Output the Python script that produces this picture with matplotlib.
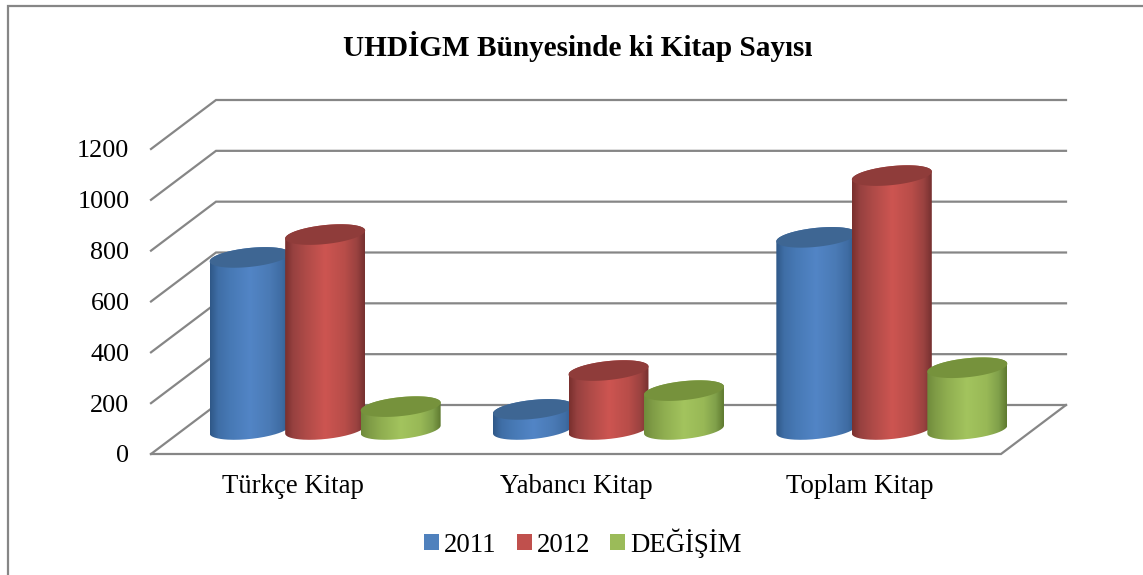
import numpy as np
import matplotlib
matplotlib.use("Agg")
import matplotlib.pyplot as plt
from matplotlib.patches import Patch, Polygon, PathPatch
from matplotlib.lines import Line2D
from matplotlib.path import Path
from matplotlib.colors import LinearSegmentedColormap

title = "UHDİGM Bünyesinde ki Kitap Sayısı"
categories = ["Türkçe Kitap", "Yabancı Kitap", "Toplam Kitap"]
series_names = ["2011", "2012", "DEĞİŞİM"]
values_2011 = [677, 79, 756]
values_2012 = [767, 232, 999]
values_degisim = [90, 153, 243]
y_ticks = [0, 200, 400, 600, 800, 1000, 1200]

legend_colors = ["#4f81bd", "#c0504d", "#9bbb59"]
top_colors = ["#3e6693", "#8f3c3a", "#76923c"]
ramp_stops = [0, 0.1, 0.25, 0.5, 0.75, 0.9, 1]
ramps = [
    ["#2f5888", "#3f6ea6", "#4779b5", "#5285c6", "#4a7ab5", "#3f6ca3", "#2f5a8c"],
    ["#7a302e", "#974140", "#ad4a47", "#cd5551", "#b84d49", "#9a4240", "#763130"],
    ["#6f8b3b", "#7f9b46", "#8fae50", "#a3c45e", "#98b856", "#80a04a", "#5f7a30"],
]

W, H = 1143, 575
L, R, B, T = 151, 1001, 454, 149
plt.rcParams["font.family"] = ["Liberation Serif", "DejaVu Serif"]
fig = plt.figure(figsize=(W / 100, H / 100), dpi=100, facecolor="white")
ax = fig.add_axes([L / W, 1 - B / H, (R - L) / W, (B - T) / H])
ax.patch.set_visible(False)
for s in ax.spines.values():
    s.set_visible(False)

px_x = 3 / (R - L)       # data units per pixel, x
px_y = 1200 / (B - T)    # data units per pixel, y
depth_x, depth_y = 65 * px_x, 49 * px_y
grid_c = "#868686"

# walls and floor
for v in y_ticks:
    ax.plot([-0.5, -0.5 + depth_x, 2.5 + depth_x], [v, v + depth_y, v + depth_y],
            color=grid_c, lw=1.6, clip_on=False, zorder=1, solid_joinstyle="miter")
ax.plot([-0.5, 2.5, 2.5 + depth_x], [0, 0, depth_y], color=grid_c, lw=1.6,
        clip_on=False, zorder=1, solid_joinstyle="miter")

# cylinders
rx = 40 * px_x
tilt = 4 * px_y
ry = 9.5 * px_y
step = 75.5 * px_x
series = [values_2011, values_2012, values_degisim]
zo = 2
t = np.linspace(0, np.pi, 80)
tt = np.linspace(0, 2 * np.pi, 120)
for ci in range(len(categories)):
    for si, vals in enumerate(series):
        cx = ci + (si - 1) * step + depth_x / 2
        y0 = depth_y / 2
        y1 = y0 + vals[ci]
        # lower half of base (left to right), upper half of top (right to left)
        bx = cx - rx * np.cos(t)
        by = y0 - tilt * np.cos(t) - ry * np.sin(t)
        ux = cx + rx * np.cos(t)
        uy = y1 + tilt * np.cos(t) + ry * np.sin(t)
        verts = np.r_[np.c_[bx, by], np.c_[ux, uy], [[bx[0], by[0]]]]
        clip = PathPatch(Path(verts), transform=ax.transData, fc="none", ec="none")
        clip.set_clip_on(False)
        ax.add_patch(clip)
        cmap = LinearSegmentedColormap.from_list("c", list(zip(ramp_stops, ramps[si])))
        im = ax.imshow(np.linspace(0, 1, 128)[None, :], cmap=cmap, aspect="auto",
                       extent=[cx - rx, cx + rx, y0 - 2 * ry, y1 + 2 * ry],
                       zorder=zo, interpolation="bilinear")
        im.set_clip_box(fig.bbox)
        im.set_clip_path(clip)
        ax.add_patch(Polygon(np.c_[cx + rx * np.cos(tt),
                                   y1 + tilt * np.cos(tt) + ry * np.sin(tt)],
                             closed=True, fc=top_colors[si], ec="none",
                             zorder=zo + 0.5, clip_on=False))
        zo += 1
ax.set_xlim(-0.5, 2.5)
ax.set_ylim(0, 1200)

ax.set_yticks(y_ticks)
ax.set_yticklabels([str(v) for v in y_ticks], fontsize=18.8, color="black")
ax.set_xticks(range(len(categories)))
ax.set_xticklabels(categories, fontsize=19.3, color="black")
ax.tick_params(axis="y", length=0, pad=15.5)
ax.tick_params(axis="x", length=0, pad=14.5)

fig.text(578 / W, 1 - 46 / H, title, ha="center", va="center", fontsize=21.1,
         fontweight="bold", color="black")

handles = [Patch(fc=c, ec="none", label=n) for c, n in zip(legend_colors, series_names)]
fig.legend(handles=handles, loc="center", bbox_to_anchor=(583 / W, 1 - 543 / H),
           ncol=3, frameon=False, fontsize=19.3, handlelength=0.55, handleheight=0.55,
           handletextpad=0.2, columnspacing=0.75, borderpad=0)

# chart frame: only the top and left edges fall inside the picture
fig.add_artist(Line2D([8 / W, 8 / W, 1], [0, 1 - 6 / H, 1 - 6 / H],
                      transform=fig.transFigure, color="#868686", lw=1.6,
                      solid_joinstyle="miter"))
fig.savefig("out.png", dpi=100)
